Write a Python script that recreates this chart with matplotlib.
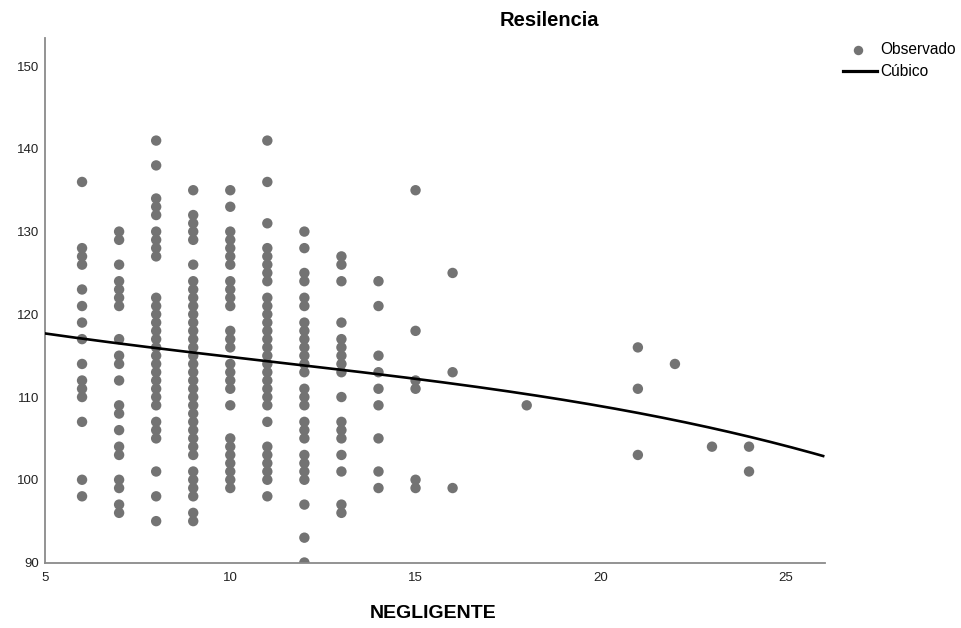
import numpy as np
import matplotlib
matplotlib.use("Agg")
import matplotlib.pyplot as plt
from matplotlib.lines import Line2D

plt.rcParams['font.family'] = ['Liberation Sans', 'DejaVu Sans']

# ---- data ----
x_levels = [6, 7, 8, 9, 10, 11, 12, 13, 14, 15, 16, 18, 21, 22, 23, 24]
res_6 = [136, 128, 127, 126, 123, 121, 119, 117, 114, 112, 111, 110, 107, 100, 98]
res_7 = [130, 129, 126, 124, 123, 122, 121, 117, 115, 114, 112, 109, 108, 106, 104, 103, 100, 99, 97, 96]
res_8 = [141, 138, 134, 133, 132, 130, 129, 128, 127, 122, 121, 120, 119, 118, 117, 116, 115, 114, 113,
         112, 111, 110, 109, 107, 106, 105, 101, 98, 95]
res_9 = [135, 132, 131, 130, 129, 126, 124, 123, 122, 121, 120, 119, 118, 117, 116, 115, 114, 113, 112,
         111, 110, 109, 108, 107, 106, 105, 104, 103, 101, 100, 99, 98, 96, 95]
res_10 = [135, 133, 130, 129, 128, 127, 126, 124, 123, 122, 121, 118, 117, 116, 114, 113, 112, 111, 109,
          105, 104, 103, 102, 101, 100, 99]
res_11 = [141, 136, 131, 128, 127, 126, 125, 124, 122, 121, 120, 119, 118, 117, 116, 115, 114, 113, 112,
          111, 110, 109, 107, 104, 103, 102, 101, 100, 98]
res_12 = [130, 128, 125, 124, 122, 121, 119, 118, 117, 116, 115, 114, 113, 111, 110, 109, 107, 106, 105,
          103, 102, 101, 100, 97, 93, 90]
res_13 = [127, 126, 124, 119, 117, 116, 115, 114, 113, 110, 107, 106, 105, 103, 101, 97, 96]
res_14 = [124, 121, 115, 113, 111, 109, 105, 101, 99]
res_15 = [135, 118, 112, 111, 100, 99]
res_16 = [125, 113, 99]
res_18 = [109]
res_21 = [116, 111, 103]
res_22 = [114]
res_23 = [104]
res_24 = [104, 101]
res_columns = [res_6, res_7, res_8, res_9, res_10, res_11, res_12, res_13, res_14, res_15,
               res_16, res_18, res_21, res_22, res_23, res_24]

# cubic fit curve, read at several x positions
curve_x = [5, 10, 15, 20, 25, 26]
curve_y = [117.7, 114.8, 112.3, 108.8, 104.2, 102.8]

title = "Resilencia"
x_label = "NEGLIGENTE"
legend_labels = ["Observado", "Cúbico"]
x_ticks = [5, 10, 15, 20, 25]
y_ticks = [90, 100, 110, 120, 130, 140, 150]

# ---- build ----
xs = np.concatenate([[xv] * len(col) for xv, col in zip(x_levels, res_columns)])
ys = np.concatenate(res_columns)

W, H = 961, 628
fig = plt.figure(figsize=(W / 100, H / 100), dpi=100)
ax = fig.add_axes([45 / W, 1 - 562.5 / H, 780 / W, (562.5 - 38) / H])

dot_color = '#737373'
ax.scatter(xs, ys, s=56, color=dot_color, edgecolors='none', zorder=2)

coef = np.polyfit(curve_x, curve_y, 3)
xx = np.linspace(5, 26, 300)
ax.plot(xx, np.polyval(coef, xx), color='black', lw=1.9, zorder=3)

ax.set_xlim(5, 26.05)
ax.set_ylim(90, 153.4)
ax.set_xticks(x_ticks)
ax.set_yticks(y_ticks)
ax.tick_params(axis='both', length=0, labelsize=9.5, colors='#222222')
ax.tick_params(axis='y', pad=4)
ax.tick_params(axis='x', pad=7)
for s in ['top', 'right']:
    ax.spines[s].set_visible(False)
for s in ['left', 'bottom']:
    ax.spines[s].set_color('#8a8a8a')
    ax.spines[s].set_linewidth(1.3)

fig.text(549 / W, 1 - 21 / H, title, ha='center', va='center', fontsize=14.5, fontweight='bold')
fig.text(433 / W, 1 - 613 / H, x_label, ha='center', va='center', fontsize=14, fontweight='bold')

# legend, drawn in figure pixels
fig.add_artist(Line2D([858 / W], [1 - 50 / H], marker='o', ls='none', color=dot_color,
                      markersize=6.8, markeredgewidth=0, transform=fig.transFigure))
fig.add_artist(Line2D([843 / W, 877 / W], [1 - 71 / H, 1 - 71 / H], color='black', lw=2.3,
                      transform=fig.transFigure))
fig.text(880 / W, 1 - 50 / H, legend_labels[0], ha='left', va='center', fontsize=11.2)
fig.text(880 / W, 1 - 72 / H, legend_labels[1], ha='left', va='center', fontsize=11.2)

fig.savefig('out.png', dpi=100)
